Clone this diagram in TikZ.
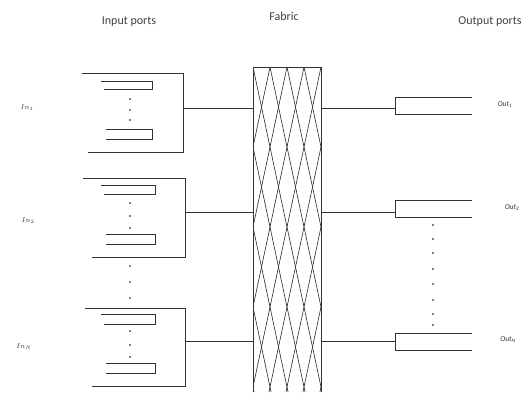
\documentclass[tikz,border=0pt]{standalone}
\usepackage{fontspec}
\setmainfont{Carlito}
\begin{document}
\begin{tikzpicture}[x=1pt,y=-1pt,
  wire/.style={draw=black!80,line width=0.8pt},
  hatch/.style={draw=black!85,line width=0.6pt},
  dotmark/.style={circle,fill=black,inner sep=0pt,minimum size=1.8pt},
  head/.style={font=\fontsize{12}{14}\selectfont,text=black!75},
  inlab/.style={font=\fontsize{7.5}{8}\selectfont,text=black!80},
  outlab/.style={font=\fontsize{7.5}{8}\selectfont\itshape,text=black!80}]
\useasboundingbox (0,0) rectangle (529,392);
% headings
\node[head] (hin) at (129,22) {Input ports};
\node[head] (hfab) at (284,16) {Fabric};
\node[head] (hout) at (490,22) {Output ports};
% fabric
\coordinate (ftl) at (253,67);
\coordinate (ftr) at (321,67);
\coordinate (fbl) at (253,392);
\coordinate (fbr) at (321,392);
\begin{scope}
\clip (ftl) rectangle (fbr);
\foreach \k in {-5,...,4} {
  \draw[hatch] ({253+17*\k},67) -- ({253+17*\k+17*325/80},392);
}
\foreach \k in {0,...,9} {
  \draw[hatch] ({253+17*\k},67) -- ({253+17*\k-17*325/80},392);
}
\end{scope}
\draw[wire] (fbl) -- (ftl) -- (ftr) -- (fbr);
% input ports
\foreach \n/\t/\b/\qa/\qb/\qc/\qd/\r/\q/\ta/\ba/\c/\da/\db/\dc in {
  1/73/152/81/89/129/139/183/152/82/88/108/99/110/120,
  2/178/257/185/194/234/244/185/155/83/92/212/203/216/228,
  N/308/386/314/324/363/373/185/155/85/92/341/331/345/357} {
  \draw[wire] (\ta,\t) -- (\r,\t) -- (\r,\b) -- (\ba,\b);
  \draw[wire] (101,\qa) -- (\q,\qa) -- (\q,\qb) -- (104,\qb);
  \draw[wire] (106,\qc) -- (\q,\qc) -- (\q,\qd) -- (106,\qd);
  \node[dotmark] (d\n a) at (130,\da) {};
  \node[dotmark] (d\n b) at (130,\db) {};
  \node[dotmark] (d\n c) at (130,\dc) {};
  \coordinate (in\n) at (\r,\c);
}
\node[dotmark] (mid1) at (130,266) {};
\node[dotmark] (mid2) at (130,282) {};
\node[dotmark] (mid3) at (130,298) {};
% input labels
\node[inlab] (l1) at (27,108) {$In_1$};
\node[inlab] (l2) at (28,221) {$In_2$};
\node[inlab] (lN) at (24,347) {$In_N$};
% output ports
\foreach \n/\t/\b/\c in {1/97/114/108, 2/200/217/212, N/333/350/341} {
  \draw[wire] (472,\t) -- (395,\t) -- (395,\b) -- (472,\b);
  \coordinate (out\n) at (395,\c);
}
% connectors
\draw[wire] (in1) -- (in1 -| ftl);
\draw[wire] (in2) -- (in2 -| ftl);
\draw[wire] (inN) -- (inN -| ftl);
\draw[wire] (out1 -| ftr) -- (out1);
\draw[wire] (out2 -| ftr) -- (out2);
\draw[wire] (outN -| ftr) -- (outN);
% output dots
\foreach \y [count=\i] in {225,239,253,269,284,300,314,325} {
  \node[dotmark] (od\i) at (433,\y) {};
}
% output labels
\node[outlab] (o1) at (505,105) {Out\textsubscript{1}};
\node[outlab] (o2) at (512,208) {Out\textsubscript{2}};
\node[outlab] (oN) at (508,340) {Out\textsubscript{N}};
\end{tikzpicture}
\end{document}
